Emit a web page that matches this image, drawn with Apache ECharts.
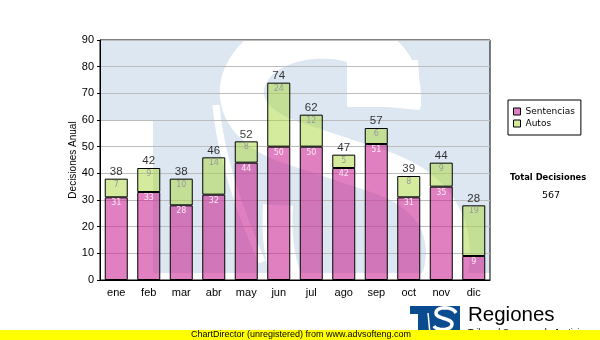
<!DOCTYPE html>
<html>
<head>
<meta charset="utf-8">
<script src="https://cdn.jsdelivr.net/npm/echarts@6/dist/echarts.min.js"></script>
<style>
  html, body { margin: 0; padding: 0; background: #ffffff; }
  #chart { width: 600px; height: 340px; }
</style>
</head>
<body>
<div id="chart"></div>
<script>
// Monthly decisions, split by type
const months = ['ene', 'feb', 'mar', 'abr', 'may', 'jun', 'jul', 'ago', 'sep', 'oct', 'nov', 'dic'];
const sentencias = [31, 33, 28, 32, 44, 50, 50, 42, 51, 31, 35, 9];
const autos = [7, 9, 10, 14, 8, 24, 12, 5, 6, 8, 9, 19];
const yMin = 0, yMax = 90, yStep = 10;

const totals = months.map((m, i) => sentencias[i] + autos[i]);
const grandTotal = totals.reduce((a, b) => a + b, 0);

const PINK = 'rgba(204, 43, 150, 0.6)';
const GREEN = 'rgba(170, 215, 60, 0.5)';
const WM = '#dde7f1';

// turn a chain of cubic Bezier segments into polyline points
function curve(start, segs, steps) {
  const pts = [start.slice()];
  let p0 = start;
  segs.forEach(s => {
    if (s.length === 1) { pts.push(s[0].slice()); p0 = s[0]; return; }
    const [c1, c2, p3] = s;
    for (let k = 1; k <= steps; k++) {
      const t = k / steps, u = 1 - t;
      pts.push([
        u * u * u * p0[0] + 3 * u * u * t * c1[0] + 3 * u * t * t * c2[0] + t * t * t * p3[0],
        u * u * u * p0[1] + 3 * u * u * t * c1[1] + 3 * u * t * t * c2[1] + t * t * t * p3[1]
      ]);
    }
    p0 = p3;
  });
  return pts;
}

// watermark "S": upper arc, spine, lower bowl
const bigS = curve([398, 108], [
  [[410, 30], [300, 20], [258, 58]],
  [[228, 88], [240, 125], [290, 142]],
  [[380, 172]],
  [[440, 192], [455, 235], [445, 275]],
  [[432, 320], [330, 330], [300, 305]]
], 24);
const sTail = curve([305, 305], [[[285, 290], [275, 250], [278, 205]]], 16);
const stemGap = curve([216, 105], [[[220, 150], [235, 200], [262, 262]]], 20);
const smallS = curve([456, 313], [
  [[453, 306], [436, 306], [436, 313]],
  [[436, 319], [452, 318], [452, 324]],
  [[452, 331], [436, 331], [434, 326]]
], 12);

const chart = echarts.init(document.getElementById('chart'), null, { renderer: 'canvas' });

// plot box
const PL = 100, PT = 40, PR = 490, PB = 280;

chart.setOption({
  animation: false,
  backgroundColor: '#ffffff',
  textStyle: { fontFamily: 'Liberation Sans, Arial, sans-serif' },
  grid: {
    left: PL, top: PT, right: 600 - PR, bottom: 340 - PB,
    containLabel: false, outerBoundsMode: 'none',
    show: true, borderColor: '#000', borderWidth: 1, backgroundColor: 'transparent'
  },
  legend: {
    data: ['Sentencias', 'Autos'],
    orient: 'vertical', left: 508, top: 100,
    icon: 'rect', itemWidth: 7, itemHeight: 7, itemGap: 3,
    padding: [7, 6, 7, 5],
    borderColor: '#000', borderWidth: 1, borderRadius: 0,
    textStyle: { fontFamily: 'DejaVu Sans, Verdana, sans-serif', fontSize: 9, color: '#000' },
    itemStyle: { borderColor: '#000', borderWidth: 1 }
  },
  xAxis: {
    type: 'category', data: months,
    axisLine: { lineStyle: { color: '#000', width: 1 } },
    axisTick: { alignWithLabel: true, length: 4, lineStyle: { color: '#000' } },
    axisLabel: { color: '#000', fontSize: 11, margin: 7 },
    splitLine: { show: false }
  },
  yAxis: {
    type: 'value', min: yMin, max: yMax, interval: yStep,
    axisLine: { show: true, lineStyle: { color: '#000', width: 1 } },
    axisTick: { show: true, length: 3, lineStyle: { color: '#000' } },
    axisLabel: { color: '#000', fontSize: 11, margin: 6 },
    splitLine: { lineStyle: { color: '#bcbcbc', width: 1 } }
  },
  series: [
    {
      name: 'Sentencias', type: 'bar', stack: 'd', data: sentencias, barWidth: 23,
      itemStyle: { color: PINK, borderColor: '#000', borderWidth: 1 },
      label: { show: true, position: 'insideTop', distance: 2, fontSize: 8,
               fontFamily: 'DejaVu Sans, Verdana, sans-serif', color: '#fbe6f5' }
    },
    {
      name: 'Autos', type: 'bar', stack: 'd', data: autos, barWidth: 23,
      itemStyle: { color: GREEN, borderColor: '#000', borderWidth: 1 },
      label: { show: true, position: 'insideTop', distance: 2, fontSize: 8,
               fontFamily: 'DejaVu Sans, Verdana, sans-serif', color: '#9a9a9a' }
    },
    {
      name: 'Total', type: 'scatter', data: totals, symbolSize: 0, z: 5,
      label: { show: true, position: 'top', distance: 1, fontSize: 11.5, color: '#000' }
    }
  ],
  graphic: [
    // faint logo watermark behind the plot
    { type: 'rect', z: -10, silent: true, shape: { x: PL, y: PT, width: PR - PL, height: 233 }, style: { fill: WM } },
    { type: 'rect', z: -9, silent: true, shape: { x: PL, y: 120, width: 53, height: 165 }, style: { fill: '#fff' } },
    { type: 'polyline', z: -9, silent: true, shape: { points: bigS },
      style: { fill: null, stroke: '#fff', lineWidth: 44 } },
    { type: 'polyline', z: -9, silent: true, shape: { points: sTail },
      style: { fill: null, stroke: '#fff', lineWidth: 30 } },
    { type: 'polygon', z: -9, silent: true,
      shape: { points: [[347, 107], [421, 107], [418, 60], [347, 60]] }, style: { fill: '#fff' } },
    { type: 'polyline', z: -9, silent: true, shape: { points: stemGap },
      style: { fill: null, stroke: '#fff', lineWidth: 7 } },
    // white frame outside the plot
    { type: 'rect', z: -5, silent: true, shape: { x: 0, y: 0, width: 600, height: PT }, style: { fill: '#fff' } },
    { type: 'rect', z: -5, silent: true, shape: { x: 0, y: PB, width: 600, height: 340 - PB }, style: { fill: '#fff' } },
    { type: 'rect', z: -5, silent: true, shape: { x: 0, y: 0, width: PL, height: 340 }, style: { fill: '#fff' } },
    { type: 'rect', z: -5, silent: true, shape: { x: PR, y: 0, width: 600 - PR, height: 340 }, style: { fill: '#fff' } },

    // y axis title
    { type: 'text', z: 10, x: 73, y: (PT + PB) / 2, rotation: Math.PI / 2,
      style: { text: 'Decisiones Anual', font: '10px "Liberation Sans", Arial, sans-serif', fill: '#000',
               textAlign: 'center', textVerticalAlign: 'middle' } },

    // grand total
    { type: 'text', z: 10, left: 510, top: 173,
      style: { text: 'Total Decisiones', font: 'bold 9.3px "DejaVu Sans Condensed", "DejaVu Sans", sans-serif', fill: '#000' } },
    { type: 'text', z: 10, left: 542, top: 191,
      style: { text: String(grandTotal), font: '9.5px "DejaVu Sans", sans-serif', fill: '#000' } },

    // organisation logo
    { type: 'rect', z: 10, silent: true, shape: { x: 410, y: 306, width: 50, height: 26 }, style: { fill: '#0b4c90' } },
    { type: 'rect', z: 11, silent: true, shape: { x: 410, y: 314, width: 8, height: 20 }, style: { fill: '#fff' } },
    { type: 'polyline', z: 11, silent: true, shape: { points: smallS },
      style: { fill: null, stroke: '#fff', lineWidth: 3.5 } },
    { type: 'line', z: 11, silent: true, shape: { x1: 428, y1: 313, x2: 430, y2: 334 },
      style: { stroke: '#fff', lineWidth: 1.5 } },
    { type: 'text', z: 10, left: 468, top: 305,
      style: { text: 'Regiones', font: '20.5px "Liberation Sans", Arial, sans-serif', fill: '#000' } },
    { type: 'text', z: 10, left: 468, top: 328,
      style: { text: 'Tribunal Supremo de Justicia', font: '9px "Liberation Sans", Arial, sans-serif', fill: '#000' } },

    // footer strip
    { type: 'rect', z: 20, silent: true, shape: { x: 0, y: 330, width: 600, height: 10 }, style: { fill: '#ffff00' } },
    { type: 'text', z: 21, left: 191, top: 330,
      style: { text: 'ChartDirector (unregistered) from www.advsofteng.com', font: '9px "Liberation Sans", Arial, sans-serif', fill: '#000' } }
  ]
});
</script>
</body>
</html>
